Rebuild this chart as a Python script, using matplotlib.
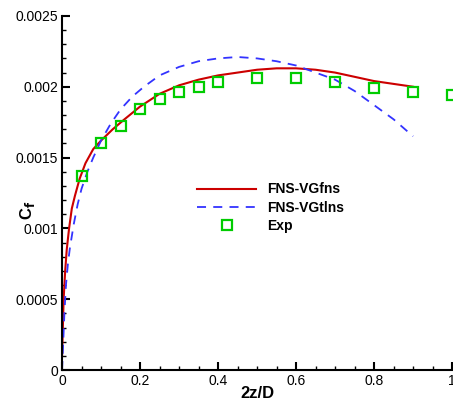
import numpy as np
import matplotlib
matplotlib.use("Agg")
import matplotlib.pyplot as plt
from matplotlib.ticker import MultipleLocator

plt.rcParams['font.family'] = ['Liberation Sans', 'DejaVu Sans']

# red solid curve: FNS-VGfns
fns_x = [0.000, 0.002, 0.004, 0.008, 0.012, 0.018, 0.025, 0.033, 0.045, 0.06,
         0.08, 0.10, 0.13, 0.16, 0.20, 0.25, 0.30, 0.35, 0.40, 0.45,
         0.50, 0.55, 0.60, 0.65, 0.70, 0.75, 0.80, 0.85, 0.90]
fns_y = [0.0001, 0.0003, 0.0005, 0.0007, 0.00085, 0.001, 0.00114, 0.00123, 0.00135, 0.00146,
         0.00156, 0.00162, 0.0017, 0.00177, 0.00186, 0.00195, 0.00201, 0.00205, 0.00208, 0.0021,
         0.00212, 0.00213, 0.00213, 0.00212, 0.0021, 0.00207, 0.00204, 0.00202, 0.002]

# blue dashed curve: FNS-VGtlns
tlns_x = [0.0, 0.003, 0.006, 0.01, 0.015, 0.02, 0.03, 0.04, 0.05, 0.065,
          0.08, 0.10, 0.125, 0.15, 0.18, 0.21, 0.25, 0.30, 0.35, 0.40,
          0.45, 0.50, 0.55, 0.60, 0.65, 0.70, 0.75, 0.80, 0.85, 0.90]
tlns_y = [0.0, 0.0002, 0.0004, 0.0006, 0.00075, 0.00086, 0.00103, 0.00117, 0.00128, 0.0014,
          0.0015, 0.00162, 0.00174, 0.00184, 0.00193, 0.002, 0.00208, 0.00214, 0.00218, 0.0022,
          0.00221, 0.0022, 0.00218, 0.00215, 0.0021, 0.00205, 0.00197, 0.00187, 0.00177, 0.00165]

# experiment
exp_x = [0.05, 0.1, 0.15, 0.2, 0.25, 0.3, 0.35, 0.4, 0.5, 0.6, 0.7, 0.8, 0.9, 1.0]
exp_y = [0.00137, 0.0016, 0.00172, 0.00184, 0.00191, 0.00196, 0.002, 0.00203,
         0.00206, 0.00206, 0.00203, 0.00199, 0.00196, 0.00194]

xticks = [0, 0.2, 0.4, 0.6, 0.8, 1.0]
xtick_labels = ['0', '0.2', '0.4', '0.6', '0.8', '1']
yticks = [0, 0.0005, 0.001, 0.0015, 0.002, 0.0025]
ytick_labels = ['0', '0.0005', '0.001', '0.0015', '0.002', '0.0025']

fig = plt.figure(figsize=(4.53, 4.01), dpi=100)
ax = fig.add_axes([0.137, 0.0773, 0.861, 0.883])

ax.plot(fns_x, fns_y, color='#cc0000', lw=1.5, label='FNS-VGfns')
ax.plot(tlns_x, tlns_y, color='#3333ff', lw=1.3, ls=(0, (5, 4)), label='FNS-VGtlns')
ax.plot(exp_x, exp_y, ls='none', marker='s', ms=7, mfc='none', mec='#00cc00',
        mew=1.6, clip_on=False, label='Exp')

ax.set_xlim(0, 1)
ax.set_ylim(0, 0.0025)
ax.set_xticks(xticks)
ax.set_xticklabels(xtick_labels)
ax.set_yticks(yticks)
ax.set_yticklabels(ytick_labels)
ax.xaxis.set_minor_locator(MultipleLocator(0.05))
ax.yaxis.set_minor_locator(MultipleLocator(0.0001))

for s in ['top', 'right']:
    ax.spines[s].set_visible(False)
for s in ['left', 'bottom']:
    ax.spines[s].set_linewidth(1.5)
ax.tick_params(which='major', direction='in', length=6, width=1.5, labelsize=10, pad=3)
ax.tick_params(which='minor', direction='in', length=3, width=1)

ax.set_xlabel('2z/D', fontsize=12, fontweight='bold')
ax.xaxis.set_label_coords(0.5, -0.045)
ax.set_ylabel('C$_\\mathbf{f}$', fontsize=12, fontweight='bold')
ax.yaxis.set_label_coords(-0.065, 0.45)

leg = ax.legend(loc='upper left', bbox_to_anchor=(0.315, 0.565), frameon=False,
                prop={'weight': 'bold', 'size': 10}, handlelength=4.2,
                handletextpad=0.8, labelspacing=0.3)

fig.savefig('out.png', dpi=100)
